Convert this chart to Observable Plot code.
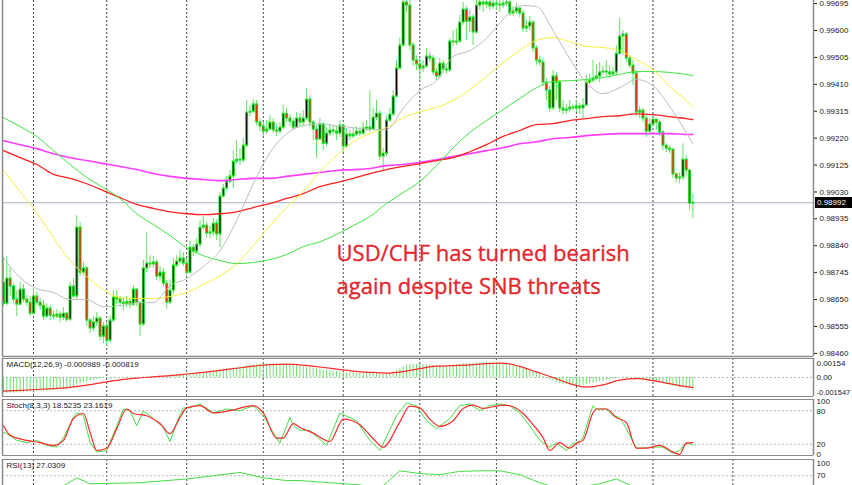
<!DOCTYPE html>
<html><head><meta charset="utf-8">
<script src="https://cdn.jsdelivr.net/npm/d3@7"></script>
<script src="https://cdn.jsdelivr.net/npm/@observablehq/plot@0.6"></script>
<style>
html,body{margin:0;padding:0;background:#fff;}
#wrap{position:relative;width:852px;height:485px;overflow:hidden;background:#fff;}
#plabel{position:absolute;left:815px;width:35px;height:11px;background:#000;color:#fff;font:8px "Liberation Sans",Arial,sans-serif;line-height:11px;padding-left:2px;}
</style></head><body><div id="wrap"></div>
<script>
// ---------- price data (USD/CHF, one value per bar) ----------
const opens=[0.98710,0.98635,0.98724,0.98696,0.98650,0.98632,0.98685,0.98650,0.98639,0.98600,
0.98661,0.98639,0.98628,0.98590,0.98618,0.98593,0.98590,0.98597,0.98586,0.98600,
0.98579,0.98696,0.98661,0.98904,0.98745,0.98760,0.98576,0.98548,0.98569,0.98583,
0.98519,0.98555,0.98505,0.98576,0.98657,0.98650,0.98639,0.98635,0.98642,0.98632,
0.98685,0.98639,0.98562,0.98760,0.98777,0.98774,0.98781,0.98731,0.98745,0.98706,
0.98639,0.98682,0.98770,0.98784,0.98795,0.98777,0.98745,0.98833,0.98819,0.98844,
0.98904,0.98911,0.98883,0.98887,0.98918,0.98880,0.99014,0.99042,0.99066,0.99085,
0.99137,0.99144,0.99141,0.99193,0.99310,0.99313,0.99339,0.99275,0.99261,0.99243,
0.99250,0.99275,0.99247,0.99243,0.99257,0.99306,0.99289,0.99278,0.99257,0.99289,
0.99275,0.99289,0.99356,0.99275,0.99250,0.99215,0.99268,0.99200,0.99236,0.99247,
0.99243,0.99236,0.99264,0.99190,0.99233,0.99226,0.99233,0.99243,0.99236,0.99254,
0.99257,0.99250,0.99292,0.99306,0.99155,0.99165,0.99282,0.99303,0.99367,0.99466,
0.99547,0.99699,0.99688,0.99547,0.99494,0.99480,0.99466,0.99473,0.99508,0.99501,
0.99452,0.99438,0.99483,0.99462,0.99459,0.99561,0.99558,0.99561,0.99628,0.99674,
0.99631,0.99646,0.99593,0.99688,0.99699,0.99692,0.99699,0.99685,0.99695,0.99692,
0.99688,0.99695,0.99699,0.99660,0.99667,0.99678,0.99660,0.99607,0.99614,0.99628,
0.99537,0.99494,0.99487,0.99416,0.99388,0.99325,0.99438,0.99416,0.99325,0.99317,
0.99321,0.99328,0.99325,0.99332,0.99325,0.99335,0.99416,0.99423,0.99431,0.99438,
0.99452,0.99455,0.99452,0.99445,0.99452,0.99518,0.99579,0.99586,0.99501,0.99476,
0.99448,0.99310,0.99317,0.99289,0.99243,0.99268,0.99285,0.99275,0.99240,0.99193,
0.99183,0.99179,0.99092,0.99078,0.99081,0.99144,0.99106,0.98989];
const closes=[0.98635,0.98724,0.98696,0.98650,0.98632,0.98685,0.98650,0.98639,0.98600,0.98661,
0.98639,0.98628,0.98590,0.98618,0.98593,0.98590,0.98597,0.98586,0.98600,0.98579,
0.98696,0.98661,0.98904,0.98745,0.98760,0.98576,0.98548,0.98569,0.98583,0.98519,
0.98555,0.98505,0.98576,0.98657,0.98650,0.98639,0.98635,0.98642,0.98632,0.98685,
0.98639,0.98562,0.98760,0.98777,0.98774,0.98781,0.98731,0.98745,0.98706,0.98639,
0.98682,0.98770,0.98784,0.98795,0.98777,0.98745,0.98833,0.98819,0.98844,0.98904,
0.98911,0.98883,0.98887,0.98918,0.98880,0.99014,0.99042,0.99066,0.99085,0.99137,
0.99144,0.99141,0.99193,0.99310,0.99313,0.99339,0.99275,0.99261,0.99243,0.99250,
0.99275,0.99247,0.99243,0.99257,0.99306,0.99289,0.99278,0.99257,0.99289,0.99275,
0.99289,0.99356,0.99275,0.99250,0.99215,0.99268,0.99200,0.99236,0.99247,0.99243,
0.99236,0.99264,0.99190,0.99233,0.99226,0.99233,0.99243,0.99236,0.99254,0.99257,
0.99250,0.99292,0.99306,0.99155,0.99165,0.99282,0.99303,0.99367,0.99466,0.99547,
0.99699,0.99688,0.99547,0.99494,0.99480,0.99466,0.99473,0.99508,0.99501,0.99452,
0.99438,0.99483,0.99462,0.99459,0.99561,0.99558,0.99561,0.99628,0.99674,0.99631,
0.99646,0.99593,0.99688,0.99699,0.99692,0.99699,0.99685,0.99695,0.99692,0.99688,
0.99695,0.99699,0.99660,0.99667,0.99678,0.99660,0.99607,0.99614,0.99628,0.99537,
0.99494,0.99487,0.99416,0.99388,0.99325,0.99438,0.99416,0.99325,0.99317,0.99321,
0.99328,0.99325,0.99332,0.99325,0.99335,0.99416,0.99423,0.99431,0.99438,0.99452,
0.99455,0.99452,0.99445,0.99452,0.99518,0.99579,0.99586,0.99501,0.99476,0.99448,
0.99310,0.99317,0.99289,0.99243,0.99268,0.99285,0.99275,0.99240,0.99193,0.99183,
0.99179,0.99092,0.99078,0.99081,0.99144,0.99106,0.98989,0.98992];
const highs=[0.98798,0.98802,0.98760,0.98706,0.98682,0.98710,0.98703,0.98664,0.98661,0.98689,
0.98675,0.98654,0.98646,0.98635,0.98628,0.98611,0.98614,0.98607,0.98621,0.98604,
0.98710,0.98724,0.98946,0.98922,0.98781,0.98767,0.98583,0.98590,0.98604,0.98590,
0.98569,0.98569,0.98590,0.98682,0.98682,0.98661,0.98657,0.98661,0.98654,0.98699,
0.98689,0.98639,0.98788,0.98887,0.98805,0.98802,0.98791,0.98767,0.98760,0.98717,
0.98720,0.98795,0.98805,0.98823,0.98816,0.98795,0.98858,0.98844,0.98866,0.98929,
0.98943,0.98922,0.98908,0.98936,0.98932,0.99028,0.99056,0.99085,0.99106,0.99176,
0.99211,0.99183,0.99219,0.99353,0.99335,0.99356,0.99353,0.99289,0.99275,0.99282,
0.99299,0.99289,0.99271,0.99275,0.99335,0.99325,0.99303,0.99289,0.99310,0.99306,
0.99317,0.99395,0.99370,0.99282,0.99264,0.99289,0.99275,0.99257,0.99268,0.99264,
0.99261,0.99282,0.99268,0.99254,0.99247,0.99254,0.99261,0.99257,0.99275,0.99282,
0.99388,0.99325,0.99353,0.99317,0.99183,0.99299,0.99325,0.99388,0.99494,0.99572,
0.99724,0.99734,0.99706,0.99558,0.99511,0.99501,0.99494,0.99537,0.99522,0.99511,
0.99466,0.99501,0.99494,0.99480,0.99572,0.99600,0.99607,0.99653,0.99699,0.99685,
0.99671,0.99657,0.99713,0.99727,0.99724,0.99727,0.99720,0.99724,0.99717,0.99713,
0.99734,0.99727,0.99720,0.99685,0.99695,0.99678,0.99671,0.99635,0.99650,0.99635,
0.99547,0.99511,0.99501,0.99431,0.99402,0.99459,0.99452,0.99423,0.99353,0.99339,
0.99353,0.99339,0.99353,0.99342,0.99360,0.99441,0.99445,0.99494,0.99480,0.99487,
0.99473,0.99494,0.99476,0.99469,0.99547,0.99643,0.99600,0.99593,0.99511,0.99494,
0.99459,0.99332,0.99325,0.99299,0.99289,0.99299,0.99289,0.99282,0.99247,0.99200,
0.99193,0.99183,0.99099,0.99099,0.99200,0.99158,0.99106,0.99024];
const lows=[0.98625,0.98628,0.98661,0.98635,0.98590,0.98628,0.98639,0.98625,0.98590,0.98597,
0.98628,0.98611,0.98576,0.98583,0.98576,0.98579,0.98583,0.98569,0.98576,0.98569,
0.98572,0.98654,0.98650,0.98731,0.98734,0.98555,0.98529,0.98536,0.98555,0.98505,
0.98494,0.98484,0.98494,0.98569,0.98632,0.98625,0.98611,0.98621,0.98618,0.98625,
0.98625,0.98519,0.98555,0.98745,0.98760,0.98760,0.98717,0.98713,0.98692,0.98614,
0.98632,0.98668,0.98763,0.98774,0.98767,0.98734,0.98738,0.98802,0.98809,0.98833,
0.98894,0.98866,0.98866,0.98873,0.98858,0.98833,0.99007,0.99035,0.99059,0.99042,
0.99127,0.99123,0.99134,0.99186,0.99296,0.99306,0.99264,0.99243,0.99226,0.99233,
0.99247,0.99236,0.99226,0.99233,0.99250,0.99275,0.99261,0.99247,0.99254,0.99261,
0.99264,0.99282,0.99257,0.99211,0.99148,0.99211,0.99176,0.99190,0.99226,0.99229,
0.99211,0.99222,0.99169,0.99183,0.99211,0.99219,0.99226,0.99226,0.99229,0.99243,
0.99240,0.99247,0.99282,0.99141,0.99106,0.99155,0.99275,0.99296,0.99360,0.99459,
0.99540,0.99664,0.99529,0.99473,0.99459,0.99423,0.99452,0.99466,0.99487,0.99441,
0.99423,0.99431,0.99448,0.99445,0.99452,0.99544,0.99547,0.99554,0.99617,0.99565,
0.99593,0.99547,0.99586,0.99671,0.99664,0.99678,0.99671,0.99674,0.99671,0.99664,
0.99678,0.99685,0.99650,0.99650,0.99657,0.99646,0.99593,0.99593,0.99600,0.99522,
0.99476,0.99473,0.99402,0.99353,0.99310,0.99317,0.99353,0.99310,0.99303,0.99303,
0.99310,0.99317,0.99310,0.99303,0.99289,0.99332,0.99409,0.99416,0.99423,0.99416,
0.99441,0.99438,0.99431,0.99438,0.99441,0.99511,0.99511,0.99487,0.99466,0.99405,
0.99296,0.99289,0.99275,0.99222,0.99233,0.99264,0.99247,0.99226,0.99176,0.99169,
0.99165,0.99078,0.99063,0.99059,0.99070,0.99088,0.98964,0.98936];

// ---------- moving averages, read at these bar numbers ----------
const maBars=[0,5,10,15,20,25,30,35,40,45,50,55,60,65,70,75,80,85,90,95,100,105,110,115,120,125,130,135,140,145,150,155,160,165,170,175,180,185,190,195,200,205,207];
const maGray=[0.98798,0.98727,0.98689,0.98675,0.98650,0.98650,0.98625,0.98628,0.98639,0.98639,0.98699,0.98724,0.98767,0.98823,0.98929,0.99059,0.99169,0.99236,0.99264,0.99271,0.99264,0.99257,0.99250,0.99250,0.99325,0.99388,0.99423,0.99508,0.99529,0.99572,0.99639,0.99688,0.99685,0.99600,0.99501,0.99416,0.99377,0.99398,0.99427,0.99405,0.99332,0.99240,0.99200];
const maYellow=[0.99106,0.99031,0.98957,0.98869,0.98788,0.98731,0.98685,0.98657,0.98654,0.98654,0.98661,0.98675,0.98703,0.98734,0.98777,0.98840,0.98911,0.98975,0.99031,0.99102,0.99158,0.99207,0.99236,0.99257,0.99292,0.99313,0.99328,0.99353,0.99392,0.99438,0.99487,0.99529,0.99565,0.99575,0.99561,0.99544,0.99540,0.99529,0.99497,0.99462,0.99402,0.99353,0.99328];
const maGreen=[0.99292,0.99261,0.99226,0.99176,0.99127,0.99081,0.99045,0.99007,0.98953,0.98915,0.98876,0.98833,0.98805,0.98788,0.98777,0.98781,0.98791,0.98809,0.98837,0.98854,0.98880,0.98911,0.98943,0.98989,0.99028,0.99066,0.99123,0.99186,0.99240,0.99282,0.99321,0.99360,0.99398,0.99420,0.99423,0.99427,0.99434,0.99445,0.99455,0.99455,0.99452,0.99445,0.99441];
const maRed=[0.99176,0.99151,0.99127,0.99092,0.99078,0.99059,0.99035,0.99010,0.98986,0.98972,0.98960,0.98953,0.98950,0.98953,0.98960,0.98975,0.98989,0.99007,0.99024,0.99049,0.99063,0.99078,0.99095,0.99109,0.99120,0.99130,0.99141,0.99151,0.99172,0.99197,0.99226,0.99247,0.99268,0.99271,0.99282,0.99289,0.99296,0.99299,0.99306,0.99303,0.99296,0.99289,0.99285];
const maMagenta=[0.99211,0.99197,0.99183,0.99165,0.99151,0.99141,0.99130,0.99120,0.99109,0.99095,0.99085,0.99078,0.99074,0.99070,0.99074,0.99078,0.99078,0.99085,0.99092,0.99099,0.99106,0.99109,0.99113,0.99123,0.99127,0.99134,0.99144,0.99155,0.99165,0.99176,0.99186,0.99200,0.99207,0.99218,0.99222,0.99229,0.99233,0.99236,0.99236,0.99236,0.99236,0.99233,0.99233];

// ---------- MACD(12,26,9) ----------
const macdMain=[-0.00129,-0.00129,-0.00128,-0.00127,-0.00126,-0.00125,-0.00123,-0.00121,-0.00119,-0.00116,
-0.00114,-0.00112,-0.00110,-0.00108,-0.00106,-0.00104,-0.00101,-0.00098,-0.00095,-0.00093,
-0.00086,-0.00078,-0.00062,-0.00051,-0.00043,-0.00038,-0.00031,-0.00025,-0.00019,-0.00014,
-0.00010,-0.00008,-0.00006,-0.00003,-0.00002,-0.00001,0,0.00001,0.00001,0.00002,
0.00002,0.00001,0.00004,0.00006,0.00007,0.00008,0.00008,0.00009,0.00009,0.00010,
0.00012,0.00015,0.00018,0.00021,0.00024,0.00026,0.00030,0.00033,0.00036,0.00040,
0.00043,0.00046,0.00050,0.00053,0.00056,0.00062,0.00067,0.00071,0.00074,0.00078,
0.00081,0.00084,0.00088,0.00095,0.00100,0.00104,0.00107,0.00109,0.00111,0.00112,
0.00112,0.00111,0.00110,0.00108,0.00107,0.00105,0.00103,0.00100,0.00097,0.00094,
0.00090,0.00087,0.00082,0.00076,0.00070,0.00066,0.00061,0.00057,0.00054,0.00051,
0.00048,0.00046,0.00042,0.00040,0.00038,0.00036,0.00035,0.00034,0.00034,0.00034,
0.00034,0.00036,0.00038,0.00030,0.00025,0.00030,0.00035,0.00044,0.00056,0.00070,
0.00088,0.00101,0.00105,0.00106,0.00106,0.00105,0.00104,0.00104,0.00103,0.00100,
0.00096,0.00095,0.00093,0.00091,0.00096,0.00099,0.00101,0.00106,0.00112,0.00113,
0.00114,0.00112,0.00116,0.00120,0.00122,0.00123,0.00123,0.00123,0.00122,0.00121,
0.00115,0.00110,0.00104,0.00098,0.00092,0.00086,0.00078,0.00070,0.00062,0.00050,
0.00036,0.00022,0.00008,-0.00006,-0.00020,-0.00032,-0.00042,-0.00050,-0.00056,-0.00061,
-0.00064,-0.00066,-0.00067,-0.00067,-0.00066,-0.00060,-0.00054,-0.00048,-0.00042,-0.00036,
-0.00030,-0.00025,-0.00020,-0.00015,-0.00008,-0.00001,0.00003,0.00004,0.00003,0.00001,
-0.00008,-0.00015,-0.00022,-0.00030,-0.00035,-0.00038,-0.00041,-0.00046,-0.00053,-0.00059,
-0.00063,-0.00072,-0.00078,-0.00082,-0.00082,-0.00084,-0.00093,-0.000989];
const macdSignal=[-0.00111,-0.00105,-0.00098,-0.00090,-0.00080,-0.00062,-0.00040,-0.00020,-0.00005,0.00005,0.00015,0.00028,0.00042,0.00058,0.00075,0.00092,0.00105,0.00108,0.00100,0.00085,0.00068,0.00052,0.00042,0.00036,0.00048,0.00072,0.00092,0.00096,0.00102,0.00112,0.00116,0.00090,0.00045,0,-0.00050,-0.00078,-0.00060,-0.00022,-0.00010,-0.00025,-0.00050,-0.00075,-0.000819];

// ---------- Stochastic(8,3,3) ----------
const stochKBars=[0,1,4,7,10,13,16,18,21,22,24,26,28,31,34,36,38,40,42,45,48,50,52,54,56,59,63,67,71,75,78,81,83,86,87,89,92,97,101,106,110,113,118,121,124,127,130,134,137,140,143,146,149,152,155,158,161,164,166,169,171,172,174,176,177,178,181,183,185,187,190,192,195,198,201,203,205,207];
const stochK=[41,39,27,23,27,18,15,32,68,76,71,23,6,9,53,83,80,53,80,66,50,25,59,85,85,92,76,83,80,89,71,41,22,68,53,45,45,18,76,62,27,9,71,94,89,62,48,66,89,92,80,89,92,89,76,53,27,15,23,9,22,22,31,71,89,83,83,71,68,48,13,13,15,15,4,9,23,18.52];
const stochDBars=[0,2,7,11,15,18,21,24,26,28,31,34,37,39,43,47,50,53,55,59,63,68,75,78,82,84,87,89,93,98,102,107,111,114,119,122,125,128,131,135,138,141,144,147,150,153,156,159,162,164,167,170,172,174,177,178,181,184,187,190,193,197,201,203,205,207];
const stochD=[53,36,27,23,18,27,66,75,41,9,13,48,83,75,71,57,39,68,85,89,76,80,89,76,31,31,57,50,40,25,65,55,30,15,60,88,85,65,52,62,84,90,84,87,90,87,75,55,32,9,23,13,22,27,76,83,83,68,59,13,13,18,6,2,22,23.16];

// ---------- RSI(13) ----------
const rsiBars=[0,10,15,19,22,26,41,55,71,78,85,89,98,107,113,119,125,131,137,143,149,155,161,167,173,179,184,188,194,207];
const rsiVals=[45,42,40,55,66,55,57,64,76,66,61,61,57,53,46,79,74,72,78,79,79,72,57,46,49,55,64,53,38,27.03];

// ---------- axis / labels ----------
const priceTicks=[0.99695,0.99600,0.99505,0.99410,0.99315,0.99220,0.99125,0.99030,0.98935,0.98840,0.98745,0.98650,0.98555,0.98460];
const lastPrice=0.98992;
const gridBars=[9,31,55,78,102,125,148,172,195,219];
const annotation={bar:100, price:0.98765, text:"USD/CHF has turned bearish\nagain despite SNB threats"};
const macdTitle="MACD(12,26,9) -0.000989 -0.000819";
const stochTitle="Stoch(8,3,3) 18.5235 23.1619";
const rsiTitle="RSI(13) 27.0309";
const macdRange=[-0.001547,0.00154];

// ---------- build ----------
const FONT='"Liberation Sans", Arial, sans-serif';
const xDomain=[-0.3,243.2];
const wrap=document.getElementById("wrap");
const bars=closes.map((c,i)=>({i,o:opens[i],h:highs[i],l:lows[i],c}));
const ma=vals=>maBars.map((b,k)=>({i:b,v:vals[k]}));
const pairs=(bs,vs)=>bs.map((b,k)=>({i:b,v:vs[k]}));
const style={background:"transparent",fontFamily:FONT,fontSize:"8px",color:"#1a1a1a",overflow:"visible"};
const grid=()=>Plot.ruleX(gridBars,{stroke:"#4a4a4a",strokeDasharray:"2,2",strokeWidth:1});
const GREEN_OUT="#1ed21e";
function put(svg,top){svg.style.position="absolute";svg.style.left="0px";svg.style.top=top+"px";wrap.appendChild(svg);return svg;}

const main=Plot.plot({
  width:852,height:357,marginTop:0,marginBottom:1,marginLeft:2,marginRight:39,
  x:{domain:xDomain,axis:null},
  y:{domain:[0.98449,0.99706],axis:"right",ticks:priceTicks,tickFormat:d=>d.toFixed(5),tickSize:3,tickPadding:3,label:null},
  color:{type:"identity"},
  style,
  marks:[
    grid(),
    Plot.ruleY([lastPrice],{stroke:"#a7b4c4",strokeWidth:1}),
    Plot.ruleX(bars,{x:"i",y1:"h",y2:"l",stroke:"#62e262",strokeWidth:1,clip:true}),
    Plot.ruleX(bars,{x:"i",y1:d=>Math.max(d.o,d.c),y2:d=>Math.min(d.o,d.c),stroke:GREEN_OUT,strokeWidth:3,insetTop:-0.5,insetBottom:-0.5,clip:true}),
    Plot.ruleX(bars.filter(d=>Math.abs(d.o-d.c)>0.00008),{x:"i",y1:d=>Math.max(d.o,d.c),y2:d=>Math.min(d.o,d.c),stroke:d=>d.c<d.o?"#ff1414":"#000000",strokeWidth:1,insetTop:1,insetBottom:1,clip:true}),
    Plot.line(ma(maMagenta),{x:"i",y:"v",stroke:"#ff3cff",strokeWidth:1.6,curve:"monotone-x",clip:true}),
    Plot.line(ma(maRed),{x:"i",y:"v",stroke:"#ff2020",strokeWidth:1.3,curve:"monotone-x",clip:true}),
    Plot.line(ma(maGreen),{x:"i",y:"v",stroke:"#3ee63e",strokeWidth:1,curve:"monotone-x",clip:true}),
    Plot.line(ma(maYellow),{x:"i",y:"v",stroke:"#f6f03c",strokeWidth:1,curve:"monotone-x",clip:true}),
    Plot.line(ma(maGray),{x:"i",y:"v",stroke:"#bdbdbd",strokeWidth:1,curve:"monotone-x",clip:true}),
    Plot.text([annotation],{x:"bar",y:"price",text:"text",textAnchor:"start",lineAnchor:"middle",lineHeight:1.5,fontSize:22,fontFamily:'"Open Sans", sans-serif',fill:"#e5262b",stroke:"#e5262b",strokeWidth:0.35}),
    Plot.ruleX([xDomain[0],xDomain[1]],{stroke:"#8a8a8a",strokeWidth:1.5}),
    Plot.ruleY([0.98449],{stroke:"#8a8a8a",strokeWidth:1.5})
  ]
});
put(main,0);
const yMain=main.scale("y");
const lab=document.createElement("div");lab.id="plabel";lab.textContent=lastPrice.toFixed(5);
lab.style.top=(yMain.apply(lastPrice)-5.5)+"px";wrap.appendChild(lab);

function sub(top,height,mt,mb,domain,marks){
  return put(Plot.plot({width:852,height,marginTop:mt,marginBottom:mb,marginLeft:2,marginRight:39,
    x:{domain:xDomain,axis:null},y:{domain,axis:null},color:{type:"identity"},style,
    marks:[grid(),...marks,
      Plot.ruleX([xDomain[0],xDomain[1]],{stroke:"#8a8a8a",strokeWidth:1.5}),
      Plot.ruleY([domain[0],domain[1]],{stroke:"#8a8a8a",strokeWidth:1.2})]}),top);
}
const title=t=>Plot.text([t],{text:d=>d,frameAnchor:"top-left",dx:4,dy:3,textAnchor:"start",lineAnchor:"top",fill:"#1a1a1a"});
const rtext=(items,anchor,dy,extra={})=>Plot.text(items,{y:"v",text:"t",frameAnchor:"right",dx:3,dy,textAnchor:"start",lineAnchor:anchor,fill:"#1a1a1a",...extra});

// MACD panel
sub(357,40,1,1,macdRange,[
  Plot.ruleY([0],{stroke:"#b8b8b8",strokeDasharray:"2,2"}),
  Plot.ruleX(macdMain.map((v,i)=>({i,v})),{x:"i",y1:0,y2:"v",stroke:"#6fdf6f",strokeWidth:1}),
  Plot.line(ma(macdSignal),{x:"i",y:"v",stroke:"#ff2a2a",strokeWidth:1.2,curve:"monotone-x"}),
  title(macdTitle),
  rtext([{t:"0.00154",v:macdRange[1]}],"top",2),
  rtext([{t:"0.00",v:0}],"middle",0),
  rtext([{t:"-0.001547",v:macdRange[0]}],"bottom",-2,{fontSize:7.5})
]);

// Stochastic panel
sub(397,61,2,3,[0,100],[
  Plot.ruleY([20,80],{stroke:"#b8b8b8",strokeDasharray:"2,2"}),
  Plot.line(pairs(stochKBars,stochK),{x:"i",y:"v",stroke:"#45df45",strokeWidth:1}),
  Plot.line(pairs(stochDBars,stochD),{x:"i",y:"v",stroke:"#ff2a2a",strokeWidth:1.2,curve:"monotone-x"}),
  title(stochTitle),
  rtext([{t:"100",v:100}],"top",-1),
  rtext([{t:"80",v:80}],"middle",1),
  rtext([{t:"20",v:20}],"middle",0),
  rtext([{t:"0",v:0}],"bottom",1)
]);

// RSI panel
sub(458,55,1,0,[0,100],[
  Plot.ruleY([30,70],{stroke:"#b8b8b8",strokeDasharray:"2,2"}),
  Plot.line(pairs(rsiBars,rsiVals),{x:"i",y:"v",stroke:"#45df45",strokeWidth:1}),
  title(rsiTitle),
  rtext([{t:"100",v:100}],"top",1),
  rtext([{t:"70",v:70}],"middle",0)
]);
</script></body></html>
